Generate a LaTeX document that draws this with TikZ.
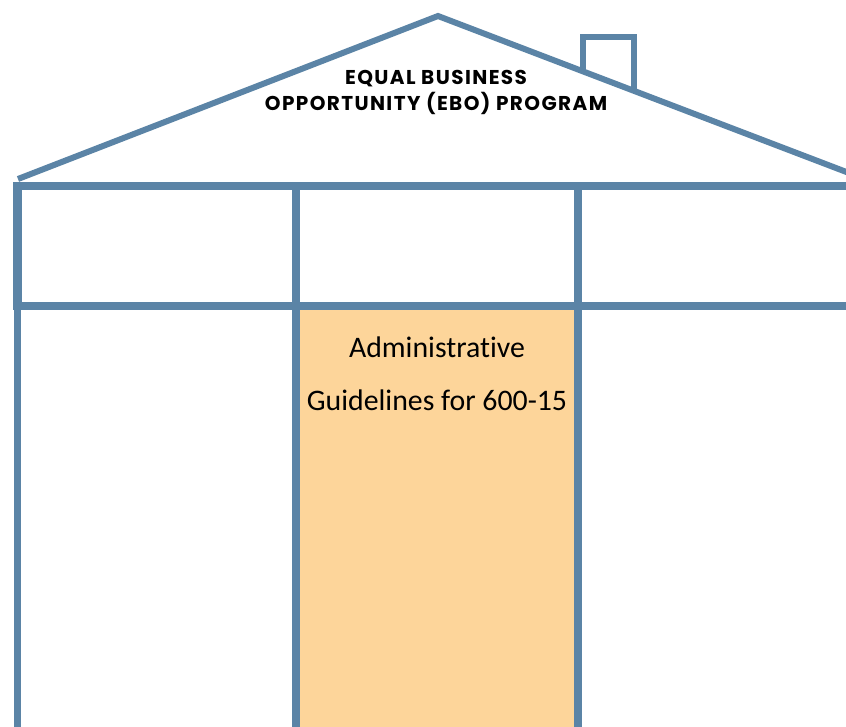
\documentclass[tikz,border=0pt]{standalone}
\usepackage{fontspec}
\setmainfont{Carlito}[Ligatures=NoCommon]
\newfontfamily\titlefont{Poppins}[LetterSpace=7]
\definecolor{wallblue}{HTML}{5B84A6}
\definecolor{doorfill}{HTML}{FDD59A}
\begin{document}
\begin{tikzpicture}[x=1pt,y=-1pt,
  wall/.style={draw=wallblue,line width=7.5pt,line cap=butt,line join=miter},
  roofline/.style={draw=wallblue,line width=6pt,line join=miter},
  chimneyline/.style={draw=wallblue,line width=5.5pt,line join=miter},
  titletext/.style={font=\titlefont\bfseries\fontsize{20}{26}\selectfont,align=center,text=black},
  bodytext/.style={font=\fontsize{29.8}{53}\selectfont,align=center,text=black}]
\useasboundingbox (0,0) rectangle (846,727);
\clip (0,0) rectangle (846,727);
% centre column filled
\fill[doorfill] (296,306) rectangle (578,740);
% roof and chimney
\draw[roofline] (18,179) -- (438,16) -- (870,181);
\draw[chimneyline] (583,71) -- (583,37) -- (634,37) -- (634,91);
% upper band of three boxes
\draw[wall,line width=8.5pt] (17.5,186) rectangle (296,306);
\draw[wall] (296,186) -- (578,186);
\draw[wall] (296,306) -- (578,306);
\draw[wall] (578,186) -- (860,186);
\draw[wall] (578,306) -- (860,306);
\draw[wall] (578,186) -- (578,306);
% columns down to the ground
\draw[wall,line width=7pt] (17.5,306) -- (17.5,740);
\draw[wall,line width=8.5pt] (296,306) -- (296,740);
\draw[wall,line width=8pt] (578,306) -- (578,740);
% labels
\node[titletext,anchor=base] (title1) at (436,85) {EQUAL BUSINESS};
\node[titletext,anchor=base] (title2) at (436,111) {OPPORTUNITY (EBO) PROGRAM};
\node[bodytext,anchor=base] (guide1) at (437,357) {Administrative};
\node[bodytext,anchor=base] (guide2) at (437,410) {Guidelines for 600-15};
\end{tikzpicture}
\end{document}
